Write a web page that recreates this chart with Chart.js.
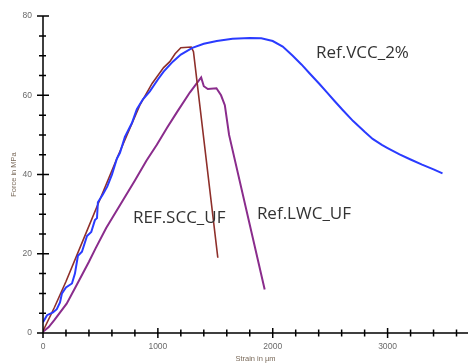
<!DOCTYPE html>
<html>
<head>
<meta charset="utf-8">
<script src="https://cdn.jsdelivr.net/npm/chart.js@4/dist/chart.umd.min.js"></script>
<style>
  html, body { margin: 0; padding: 0; background: #fff; }
  canvas { display: block; }
</style>
</head>
<body>
<canvas id="chart" width="468" height="364"></canvas>
<script>
// strain in µm / force in MPa
const vccStrain = [0, 35, 87, 120, 148, 165, 200, 252, 278, 304, 339, 383, 420, 452, 470, 478, 522, 560, 600, 643, 670, 713, 774, 817, 870, 930, 1000, 1050, 1130, 1200, 1300, 1400, 1513, 1650, 1800, 1900, 2000, 2087, 2174, 2250, 2322, 2409, 2470, 2540, 2609, 2700, 2800, 2870, 2950, 3000, 3104, 3200, 3300, 3400, 3478];
const vccForce  = [2.7, 4.5, 5.2, 6, 7.7, 10, 11.5, 12.5, 15, 19.5, 20.5, 24.5, 25.5, 28.5, 29, 33, 35, 37, 40, 44, 45.5, 49.5, 53, 56.5, 59, 61, 64, 66, 68.5, 70.3, 72, 73, 73.7, 74.3, 74.5, 74.4, 73.7, 72.3, 70, 67.8, 65.5, 62.8, 60.8, 58.5, 56.3, 53.5, 50.8, 49, 47.5, 46.7, 45.1, 43.8, 42.5, 41.3, 40.3];

const sccStrain = [0, 100, 200, 350, 500, 650, 843, 950, 1050, 1104, 1150, 1200, 1290, 1310, 1522];
const sccForce  = [0.5, 6.5, 13, 23.5, 34, 44.5, 57.5, 63, 67, 68.5, 70.5, 72, 72.2, 71, 19];

const lwcStrain = [0, 50, 100, 206, 300, 400, 460, 550, 696, 800, 900, 991, 1080, 1165, 1278, 1377, 1400, 1435, 1510, 1550, 1583, 1620, 1930];
const lwcForce  = [0.3, 1.5, 3.3, 7.4, 12.5, 18, 21.5, 26.5, 33.5, 38.5, 43.5, 47.5, 51.8, 55.7, 60.7, 64.5, 62.3, 61.6, 61.8, 60, 57.5, 50, 11];

const xTickValues = [0, 1000, 2000, 3000];
const yTickValues = [0, 20, 40, 60, 80];

const seriesNames = ['Ref.VCC_2%', 'REF.SCC_UF', 'Ref.LWC_UF'];
// label anchor in data units (left edge, baseline)
const labelStrain = [2376, 783, 1862];
const labelForce  = [69.3, 27.75, 28.75];

const xMax = 3700, yMax = 80;

function pts(xs, ys) { return xs.map((x, i) => ({ x: x, y: ys[i] })); }

const axesPlugin = {
  id: 'axes',
  afterDatasetsDraw(chart) {
    const ctx = chart.ctx, xs = chart.scales.x, ys = chart.scales.y;
    const x0 = xs.getPixelForValue(0), y0 = ys.getPixelForValue(0);
    ctx.save();
    ctx.strokeStyle = '#000'; ctx.lineWidth = 1.5;
    ctx.beginPath();
    ctx.moveTo(x0, ys.getPixelForValue(yMax)); ctx.lineTo(x0, y0 + 1);
    ctx.moveTo(x0 - 6, y0); ctx.lineTo(chart.width, y0);
    for (let v = 0; v <= yMax; v += 5) {
      const p = ys.getPixelForValue(v), major = v % 20 === 0;
      ctx.moveTo(x0 - (major ? 6 : 4), p); ctx.lineTo(x0 + (major ? 6 : 3), p);
    }
    for (let v = 0; v <= xMax; v += 200) {
      const p = xs.getPixelForValue(v), major = v % 1000 === 0;
      ctx.moveTo(p, y0 - (major ? 5 : 3.5)); ctx.lineTo(p, y0 + (major ? 5 : 3.5));
    }
    ctx.stroke();

    ctx.fillStyle = '#333';
    ctx.font = '17px "Open Sans"';
    ctx.textBaseline = 'alphabetic';
    seriesNames.forEach((n, i) => {
      ctx.fillText(n, xs.getPixelForValue(labelStrain[i]), ys.getPixelForValue(labelForce[i]));
    });
    ctx.restore();
  }
};

new Chart(document.getElementById('chart'), {
  type: 'scatter',
  data: {
    datasets: [
      { label: seriesNames[0], data: pts(vccStrain, vccForce), borderColor: '#2a3bff', borderWidth: 2 },
      { label: seriesNames[1], data: pts(sccStrain, sccForce), borderColor: '#8e2f2a', borderWidth: 1.6 },
      { label: seriesNames[2], data: pts(lwcStrain, lwcForce), borderColor: '#8a2c8c', borderWidth: 2 }
    ].map(d => Object.assign(d, { showLine: true, pointRadius: 0, tension: 0, fill: false }))
  },
  options: {
    responsive: false,
    animation: false,
    devicePixelRatio: 1,
    layout: { padding: { top: 13, left: 0, right: 0, bottom: 0 } },
    plugins: { legend: { display: false }, tooltip: { enabled: false } },
    scales: {
      x: {
        type: 'linear', min: 0, max: xMax,
        grid: { display: false, drawTicks: false }, border: { display: false },
        afterBuildTicks: s => { s.ticks = xTickValues.map(v => ({ value: v })); },
        ticks: { padding: 9, maxRotation: 0, autoSkip: false, color: '#6a6a6a',
                 font: { family: 'Liberation Sans', size: 8.5 },
                 callback: v => String(v) },
        title: { display: true, text: 'Strain in µm', color: '#7a6a5a',
                 font: { family: 'Liberation Sans', size: 7.5 }, padding: { top: 0, bottom: 1 } },
        afterFit: s => { s.height = 31; }
      },
      y: {
        type: 'linear', min: 0, max: yMax,
        grid: { display: false, drawTicks: false }, border: { display: false },
        afterBuildTicks: s => { s.ticks = yTickValues.map(v => ({ value: v })); },
        ticks: { padding: 11, autoSkip: false, color: '#6a6a6a',
                 font: { family: 'Liberation Sans', size: 8.5 },
                 callback: v => String(v) },
        title: { display: true, text: 'Force in MPa', color: '#7a6a5a',
                 font: { family: 'Liberation Sans', size: 7.5 }, padding: { top: 9, bottom: 0 } },
        afterFit: s => { s.width = 43; }
      }
    }
  },
  plugins: [axesPlugin]
});
</script>
</body>
</html>
